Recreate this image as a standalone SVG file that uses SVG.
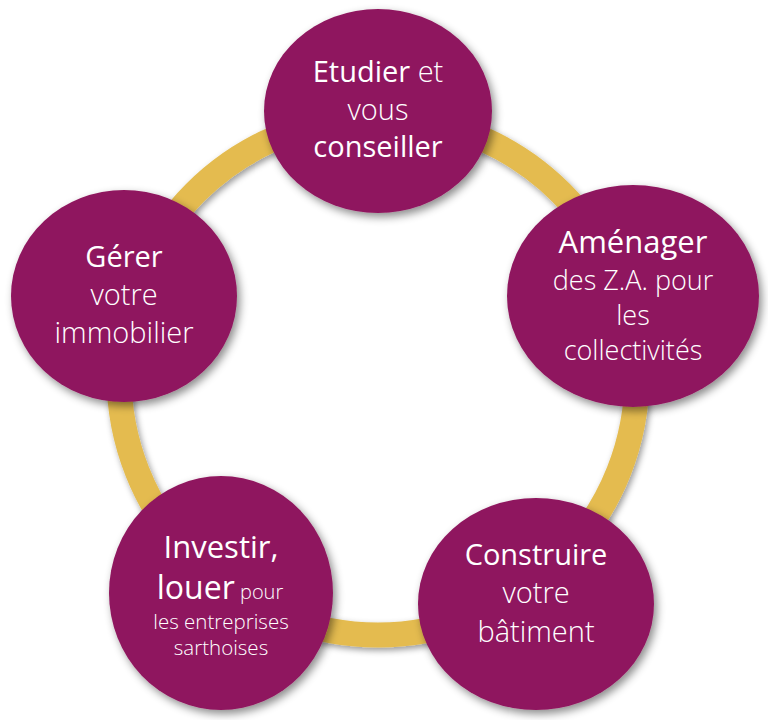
<svg xmlns="http://www.w3.org/2000/svg" width="768" height="720" viewBox="0 0 768 720">
  <defs>
    <filter id="shadow" x="-20%" y="-20%" width="140%" height="140%">
      <feDropShadow dx="3" dy="4" stdDeviation="4" flood-color="#000" flood-opacity="0.45"/>
    </filter>
    <filter id="ringShadow" x="-10%" y="-10%" width="120%" height="120%">
      <feDropShadow dx="2" dy="3" stdDeviation="3" flood-color="#000" flood-opacity="0.4"/>
    </filter>
  </defs>
  <style>
    .node { fill: #8F185E; filter: url(#shadow); }
    .ring { fill: none; stroke: #E4BB4F; stroke-width: 25; filter: url(#ringShadow); }
    text { font-family: "Open Sans", "Liberation Sans", sans-serif; fill: #FFFFFF; text-anchor: middle; }
    .b { font-weight: 400; }
    .l { font-weight: 300; }
  </style>
  <rect width="768" height="720" fill="#FFFFFF"/>
  <g id="connectors">
    <circle class="ring" cx="378" cy="376" r="259"/>
  </g>
  <g id="node-etudier">
    <ellipse class="node" cx="378" cy="111" rx="114" ry="102"/>
    <text x="378" y="82" font-size="29"><tspan class="b">Etudier</tspan><tspan class="l"> et</tspan></text>
    <text x="378" y="120" font-size="29" class="l">vous</text>
    <text x="378" y="157" font-size="29" class="b">conseiller</text>
  </g>
  <g id="node-amenager">
    <ellipse class="node" cx="633" cy="296" rx="126" ry="111"/>
    <text x="633" y="253" font-size="31" class="b">Aménager</text>
    <text x="633" y="290" font-size="27" class="l">des Z.A. pour</text>
    <text x="633" y="325" font-size="27" class="l">les</text>
    <text x="633" y="360" font-size="27" class="l">collectivités</text>
  </g>
  <g id="node-construire">
    <ellipse class="node" cx="536" cy="604" rx="118" ry="106"/>
    <text x="536" y="565" font-size="29" class="b">Construire</text>
    <text x="536" y="603" font-size="29" class="l">votre</text>
    <text x="536" y="642" font-size="29" class="l">bâtiment</text>
  </g>
  <g id="node-investir">
    <ellipse class="node" cx="221" cy="593" rx="112" ry="117"/>
    <text x="221" y="558" font-size="31" class="b">Investir,</text>
    <text x="220" y="599"><tspan class="b" font-size="32">louer</tspan><tspan class="l" font-size="20"> pour</tspan></text>
    <text x="221" y="629" font-size="20.5" class="l">les entreprises</text>
    <text x="221" y="655" font-size="20.5" class="l">sarthoises</text>
  </g>
  <g id="node-gerer">
    <ellipse class="node" cx="124" cy="296" rx="113" ry="106"/>
    <text x="124" y="267" font-size="29" class="b">Gérer</text>
    <text x="124" y="305" font-size="29" class="l">votre</text>
    <text x="124" y="343" font-size="29" class="l">immobilier</text>
  </g>
</svg>
